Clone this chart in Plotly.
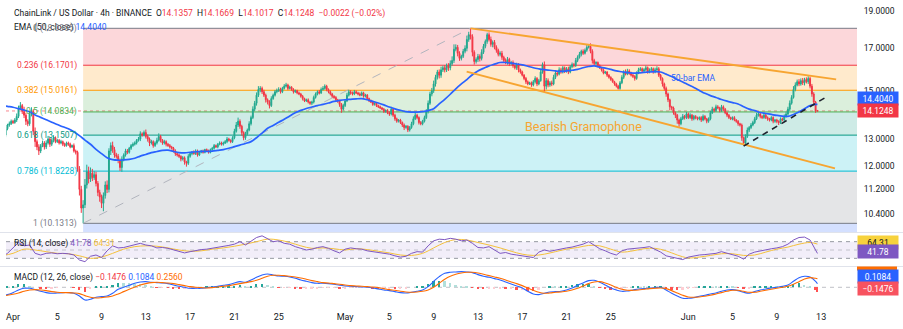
import numpy as np
import pandas as pd
import plotly.graph_objects as go

# ---------------- LINK/USD 4h candles (Binance), six bars per day ----------------
first_open = 13.40
closes = [
    13.25, 13.15, 13.40, 13.55, 13.60, 13.70,   # Mar 31
    13.65, 13.75, 13.90, 14.25, 14.35, 14.10,   # Apr 1
    13.95, 13.70, 13.60, 14.00, 14.10, 13.30,   # Apr 2
    12.90, 12.70, 12.55, 12.75, 12.85, 12.70,   # Apr 3
    12.85, 13.00, 12.80, 12.95, 13.05, 12.90,   # Apr 4
    12.95, 12.85, 12.90, 12.80, 12.75, 12.85,   # Apr 5
    12.80, 12.70, 12.75, 12.55, 12.50, 11.90,   # Apr 6
    11.20, 10.60, 10.70, 11.35, 11.80, 11.55,   # Apr 7
    11.75, 11.60, 11.70, 11.40, 11.10, 10.95,   # Apr 8
    10.75, 11.00, 11.35, 11.20, 12.55, 12.75,   # Apr 9
    12.60, 12.40, 12.35, 12.20, 11.95, 12.25,   # Apr 10
    12.40, 12.55, 12.50, 12.65, 12.75, 12.80,   # Apr 11
    12.85, 12.95, 13.00, 13.20, 13.15, 13.25,   # Apr 12
    13.10, 13.00, 12.85, 12.90, 12.75, 12.85,   # Apr 13
    12.95, 13.10, 12.95, 12.85, 12.90, 12.80,   # Apr 14
    12.75, 12.70, 12.65, 12.55, 12.45, 12.40,   # Apr 15
    12.35, 12.25, 12.30, 12.15, 12.10, 12.35,   # Apr 16
    12.45, 12.50, 12.45, 12.55, 12.40, 12.50,   # Apr 17
    12.55, 12.50, 12.60, 12.55, 12.50, 12.60,   # Apr 18
    12.65, 12.75, 12.70, 12.80, 12.85, 12.80,   # Apr 19
    12.85, 12.90, 13.00, 12.95, 12.90, 13.05,   # Apr 20
    13.30, 13.55, 13.70, 13.50, 13.25, 13.05,   # Apr 21
    13.20, 13.35, 13.60, 13.85, 14.20, 14.45,   # Apr 22
    14.80, 15.05, 15.10, 14.95, 14.80, 14.60,   # Apr 23
    14.50, 14.35, 14.65, 14.80, 14.95, 15.00,   # Apr 24
    15.05, 14.95, 15.10, 15.20, 15.25, 15.10,   # Apr 25
    15.15, 15.05, 14.95, 15.00, 14.90, 14.85,   # Apr 26
    14.75, 14.65, 14.55, 14.60, 14.50, 14.45,   # Apr 27
    14.50, 14.70, 14.85, 14.95, 14.90, 15.05,   # Apr 28
    15.10, 15.20, 15.05, 14.95, 14.85, 14.75,   # Apr 29
    14.70, 14.60, 14.55, 14.40, 14.20, 14.35,   # Apr 30
    14.55, 14.80, 14.95, 14.90, 14.85, 14.95,   # May 1
    14.90, 14.85, 14.80, 14.90, 14.75, 14.80,   # May 2
    14.65, 14.55, 14.50, 14.40, 14.45, 14.35,   # May 3
    14.30, 14.25, 14.20, 14.10, 14.15, 14.05,   # May 4
    14.00, 14.20, 13.95, 13.80, 13.70, 13.75,   # May 5
    13.65, 13.55, 13.45, 13.50, 13.35, 13.45,   # May 6
    13.60, 13.80, 13.95, 13.85, 13.65, 13.60,   # May 7
    13.70, 13.85, 14.10, 14.45, 14.85, 15.00,   # May 8
    15.30, 15.60, 15.85, 15.70, 15.95, 16.05,   # May 9
    15.95, 16.15, 16.05, 16.25, 16.40, 16.95,   # May 10
    17.05, 16.75, 16.50, 16.60, 16.85, 17.00,   # May 11
    17.45, 17.70, 17.60, 16.80, 16.35, 16.45,   # May 12
    16.60, 16.50, 16.80, 17.10, 17.35, 17.70,   # May 13
    17.45, 17.20, 17.30, 17.05, 16.90, 16.70,   # May 14
    16.75, 16.55, 16.40, 16.30, 16.45, 16.25,   # May 15
    16.30, 16.15, 16.05, 16.20, 15.95, 15.85,   # May 16
    15.70, 15.55, 15.40, 15.30, 15.35, 15.25,   # May 17
    15.40, 15.55, 15.30, 15.45, 15.85, 16.20,   # May 18
    15.20, 15.45, 15.25, 15.35, 15.30, 15.60,   # May 19
    15.80, 15.75, 15.95, 15.85, 16.05, 15.90,   # May 20
    16.00, 15.85, 16.10, 16.20, 16.15, 16.40,   # May 21
    16.55, 16.70, 16.85, 16.75, 16.90, 17.05,   # May 22
    17.10, 16.85, 16.40, 16.25, 16.30, 16.15,   # May 23
    16.05, 15.95, 15.80, 15.85, 15.70, 15.60,   # May 24
    15.50, 15.40, 15.30, 15.20, 15.10, 15.35,   # May 25
    15.60, 15.85, 15.75, 15.90, 15.80, 15.70,   # May 26
    15.65, 15.55, 15.80, 15.95, 16.00, 15.90,   # May 27
    15.95, 16.05, 15.85, 15.95, 16.00, 15.85,   # May 28
    15.95, 16.00, 15.70, 15.55, 15.30, 15.10,   # May 29
    14.85, 14.60, 14.30, 14.25, 14.05, 13.95,   # May 30
    13.75, 13.60, 13.80, 13.90, 13.85, 14.00,   # May 31
    13.85, 13.95, 13.80, 13.90, 13.85, 13.80,   # Jun 1
    13.85, 13.75, 13.90, 13.80, 13.70, 13.80,   # Jun 2
    14.05, 14.20, 14.15, 14.30, 14.25, 14.15,   # Jun 3
    14.30, 14.20, 14.05, 13.95, 13.85, 13.80,   # Jun 4
    13.85, 13.75, 13.70, 13.60, 13.55, 13.05,   # Jun 5
    12.85, 13.10, 13.35, 13.45, 13.55, 13.65,   # Jun 6
    13.80, 13.95, 14.00, 13.90, 13.85, 13.95,   # Jun 7
    13.85, 13.80, 13.75, 13.85, 13.70, 13.75,   # Jun 8
    13.70, 13.65, 13.80, 13.75, 13.90, 14.00,   # Jun 9
    14.20, 14.45, 14.70, 15.05, 15.25, 15.40,   # Jun 10
    15.30, 15.45, 15.35, 15.50, 15.40, 15.55,   # Jun 11
    15.20, 14.85, 14.50, 14.1270,               # Jun 12
]
up_wicks = [
    0.08, 0.10, 0.06, 0.05, 0.09, 0.07,
    0.06, 0.08, 0.12, 0.10, 0.15, 0.07,
    0.20, 0.10, 0.08, 0.12, 0.18, 0.10,
    0.15, 0.08, 0.10, 0.06, 0.09, 0.07,
    0.10, 0.12, 0.06, 0.08, 0.10, 0.05,
    0.06, 0.05, 0.07, 0.04, 0.06, 0.05,
    0.05, 0.06, 0.04, 0.08, 0.05, 0.06,
    0.10, 0.12, 0.15, 0.20, 0.25, 0.18,
    0.20, 0.15, 0.12, 0.10, 0.08, 0.09,
    0.08, 0.10, 0.12, 0.15, 0.10, 0.12,
    0.15, 0.10, 0.08, 0.09, 0.07, 0.10,
    0.06, 0.08, 0.07, 0.05, 0.06, 0.07,
    0.06, 0.05, 0.08, 0.10, 0.06, 0.08,
    0.12, 0.08, 0.06, 0.07, 0.05, 0.06,
    0.10, 0.12, 0.06, 0.05, 0.07, 0.05,
    0.05, 0.06, 0.04, 0.05, 0.06, 0.04,
    0.05, 0.04, 0.06, 0.05, 0.04, 0.08,
    0.06, 0.05, 0.07, 0.06, 0.05, 0.04,
    0.04, 0.05, 0.03, 0.04, 0.05, 0.04,
    0.05, 0.06, 0.04, 0.05, 0.06, 0.05,
    0.05, 0.06, 0.08, 0.05, 0.04, 0.06,
    0.10, 0.12, 0.15, 0.08, 0.06, 0.05,
    0.08, 0.06, 0.10, 0.08, 0.12, 0.10,
    0.12, 0.15, 0.10, 0.08, 0.09, 0.07,
    0.06, 0.08, 0.10, 0.07, 0.08, 0.09,
    0.10, 0.08, 0.07, 0.09, 0.10, 0.06,
    0.07, 0.05, 0.06, 0.05, 0.04, 0.06,
    0.05, 0.06, 0.04, 0.05, 0.06, 0.04,
    0.06, 0.08, 0.07, 0.06, 0.08, 0.09,
    0.10, 0.08, 0.06, 0.05, 0.06, 0.05,
    0.05, 0.06, 0.04, 0.05, 0.06, 0.08,
    0.08, 0.10, 0.09, 0.07, 0.06, 0.08,
    0.06, 0.05, 0.07, 0.06, 0.05, 0.06,
    0.05, 0.04, 0.06, 0.05, 0.04, 0.05,
    0.04, 0.05, 0.04, 0.05, 0.04, 0.05,
    0.06, 0.10, 0.05, 0.06, 0.05, 0.04,
    0.05, 0.04, 0.06, 0.05, 0.04, 0.06,
    0.08, 0.10, 0.12, 0.06, 0.05, 0.06,
    0.06, 0.08, 0.10, 0.12, 0.10, 0.12,
    0.15, 0.12, 0.10, 0.12, 0.15, 0.10,
    0.12, 0.10, 0.12, 0.15, 0.20, 0.25,
    0.15, 0.12, 0.10, 0.08, 0.12, 0.15,
    0.20, 0.15, 0.3355, 0.12, 0.10, 0.10,
    0.12, 0.10, 0.15, 0.12, 0.10, 0.10,
    0.12, 0.15, 0.10, 0.12, 0.10, 0.08,
    0.10, 0.12, 0.08, 0.10, 0.12, 0.08,
    0.08, 0.10, 0.06, 0.09, 0.07, 0.06,
    0.06, 0.05, 0.07, 0.06, 0.05, 0.06,
    0.08, 0.10, 0.06, 0.08, 0.12, 0.10,
    0.15, 0.12, 0.10, 0.08, 0.10, 0.12,
    0.10, 0.08, 0.12, 0.10, 0.08, 0.06,
    0.08, 0.10, 0.07, 0.10, 0.08, 0.12,
    0.10, 0.12, 0.08, 0.10, 0.09, 0.12,
    0.10, 0.15, 0.10, 0.08, 0.06, 0.05,
    0.06, 0.05, 0.07, 0.05, 0.04, 0.05,
    0.05, 0.06, 0.04, 0.05, 0.06, 0.08,
    0.10, 0.08, 0.12, 0.10, 0.08, 0.06,
    0.06, 0.05, 0.08, 0.10, 0.08, 0.06,
    0.08, 0.10, 0.06, 0.07, 0.08, 0.06,
    0.10, 0.12, 0.08, 0.06, 0.05, 0.06,
    0.08, 0.06, 0.05, 0.04, 0.06, 0.05,
    0.05, 0.06, 0.08, 0.10, 0.06, 0.08,
    0.06, 0.08, 0.05, 0.06, 0.05, 0.04,
    0.05, 0.06, 0.08, 0.05, 0.04, 0.06,
    0.08, 0.10, 0.06, 0.09, 0.07, 0.05,
    0.08, 0.06, 0.05, 0.04, 0.05, 0.04,
    0.05, 0.06, 0.04, 0.05, 0.04, 0.06,
    0.05, 0.08, 0.10, 0.06, 0.08, 0.07,
    0.08, 0.10, 0.09, 0.06, 0.05, 0.06,
    0.06, 0.05, 0.04, 0.06, 0.05, 0.04,
    0.05, 0.04, 0.06, 0.05, 0.08, 0.10,
    0.10, 0.12, 0.10, 0.15, 0.12, 0.10,
    0.12, 0.10, 0.12, 0.08, 0.10, 0.10,
    0.08, 0.10, 0.08, 0.05,
]
down_wicks = [
    0.10, 0.12, 0.08, 0.06, 0.07, 0.05,
    0.06, 0.05, 0.08, 0.07, 0.06, 0.10,
    0.12, 0.15, 0.10, 0.08, 0.10, 0.15,
    0.20, 0.12, 0.15, 0.08, 0.06, 0.10,
    0.08, 0.06, 0.10, 0.07, 0.08, 0.06,
    0.05, 0.06, 0.05, 0.07, 0.05, 0.04,
    0.06, 0.05, 0.04, 0.06, 0.08, 0.10,
    0.20, 0.15, 0.4687, 0.10, 0.12, 0.15,
    0.10, 0.12, 0.08, 0.10, 0.12, 0.15,
    0.15, 0.25, 0.10, 0.12, 0.10, 0.15,
    0.12, 0.10, 0.08, 0.10, 0.12, 0.15,
    0.08, 0.06, 0.07, 0.05, 0.06, 0.05,
    0.05, 0.06, 0.05, 0.08, 0.06, 0.05,
    0.08, 0.10, 0.12, 0.06, 0.08, 0.05,
    0.06, 0.05, 0.08, 0.07, 0.06, 0.08,
    0.05, 0.06, 0.05, 0.06, 0.08, 0.06,
    0.06, 0.08, 0.05, 0.10, 0.12, 0.06,
    0.05, 0.06, 0.04, 0.05, 0.06, 0.04,
    0.04, 0.05, 0.04, 0.03, 0.05, 0.04,
    0.04, 0.05, 0.04, 0.05, 0.04, 0.05,
    0.05, 0.04, 0.06, 0.05, 0.06, 0.05,
    0.06, 0.05, 0.08, 0.10, 0.12, 0.10,
    0.08, 0.06, 0.05, 0.07, 0.06, 0.08,
    0.10, 0.08, 0.12, 0.10, 0.08, 0.12,
    0.10, 0.12, 0.06, 0.05, 0.06, 0.07,
    0.06, 0.08, 0.06, 0.05, 0.06, 0.08,
    0.05, 0.06, 0.08, 0.05, 0.06, 0.05,
    0.06, 0.08, 0.05, 0.04, 0.06, 0.07,
    0.08, 0.06, 0.05, 0.06, 0.07, 0.05,
    0.05, 0.06, 0.08, 0.07, 0.06, 0.08,
    0.06, 0.05, 0.08, 0.10, 0.15, 0.06,
    0.06, 0.05, 0.06, 0.08, 0.06, 0.05,
    0.05, 0.06, 0.05, 0.04, 0.06, 0.05,
    0.06, 0.05, 0.04, 0.06, 0.05, 0.06,
    0.05, 0.04, 0.05, 0.06, 0.05, 0.06,
    0.08, 0.06, 0.07, 0.08, 0.06, 0.05,
    0.06, 0.08, 0.10, 0.05, 0.08, 0.06,
    0.05, 0.06, 0.05, 0.07, 0.08, 0.06,
    0.06, 0.05, 0.06, 0.08, 0.07, 0.10,
    0.10, 0.12, 0.10, 0.15, 0.12, 0.10,
    0.12, 0.10, 0.15, 0.12, 0.10, 0.12,
    0.10, 0.15, 0.12, 0.10, 0.08, 0.10,
    0.15, 0.12, 0.15, 0.20, 0.15, 0.10,
    0.12, 0.15, 0.10, 0.08, 0.10, 0.12,
    0.10, 0.12, 0.15, 0.10, 0.12, 0.10,
    0.10, 0.12, 0.10, 0.08, 0.10, 0.12,
    0.08, 0.10, 0.08, 0.10, 0.12, 0.08,
    0.06, 0.08, 0.10, 0.06, 0.05, 0.08,
    0.06, 0.08, 0.10, 0.06, 0.05, 0.08,
    0.25, 0.15, 0.10, 0.08, 0.10, 0.06,
    0.08, 0.10, 0.06, 0.08, 0.07, 0.10,
    0.08, 0.10, 0.06, 0.07, 0.08, 0.06,
    0.08, 0.06, 0.10, 0.08, 0.06, 0.08,
    0.06, 0.10, 0.15, 0.08, 0.10, 0.08,
    0.06, 0.08, 0.06, 0.05, 0.08, 0.06,
    0.06, 0.05, 0.08, 0.06, 0.05, 0.06,
    0.06, 0.08, 0.06, 0.05, 0.08, 0.06,
    0.08, 0.10, 0.06, 0.05, 0.06, 0.08,
    0.06, 0.05, 0.08, 0.06, 0.05, 0.08,
    0.06, 0.05, 0.08, 0.10, 0.12, 0.10,
    0.12, 0.10, 0.15, 0.10, 0.08, 0.12,
    0.15, 0.12, 0.06, 0.05, 0.08, 0.06,
    0.06, 0.05, 0.08, 0.06, 0.07, 0.06,
    0.06, 0.08, 0.05, 0.06, 0.08, 0.06,
    0.06, 0.05, 0.08, 0.06, 0.05, 0.08,
    0.06, 0.08, 0.06, 0.08, 0.06, 0.05,
    0.06, 0.05, 0.06, 0.08, 0.06, 0.12,
    0.10, 0.08, 0.06, 0.08, 0.06, 0.05,
    0.06, 0.05, 0.06, 0.08, 0.06, 0.05,
    0.06, 0.08, 0.06, 0.05, 0.08, 0.06,
    0.08, 0.10, 0.06, 0.05, 0.06, 0.05,
    0.06, 0.08, 0.06, 0.05, 0.08, 0.06,
    0.10, 0.08, 0.10, 0.12, 0.08, 0.10,
    0.10, 0.12, 0.10, 0.08,
]
last_bar = [14.1357, 14.1669, 14.1017, 14.1248]   # O, H, L, C of the live bar

# ---------------- indicators, two samples per day + live bar ----------------
ema50 = [
    14.36, 14.32, 14.28, 14.22, 14.16, 14.09, 13.96, 13.86, 13.76, 13.66,
    13.57, 13.48, 13.40, 13.28, 13.13, 12.96, 12.80, 12.61, 12.45, 12.30,
    12.23, 12.21, 12.22, 12.24, 12.28, 12.36, 12.42, 12.49, 12.53, 12.57,
    12.58, 12.53, 12.49, 12.48, 12.50, 12.52, 12.53, 12.53, 12.54, 12.57,
    12.60, 12.65, 12.71, 12.77, 12.83, 12.90, 13.05, 13.23, 13.42, 13.53,
    13.66, 13.78, 13.92, 14.05, 14.15, 14.23, 14.29, 14.35, 14.40, 14.46,
    14.53, 14.57, 14.60, 14.62, 14.64, 14.65, 14.60, 14.53, 14.46, 14.38,
    14.29, 14.21, 14.15, 14.10, 14.08, 14.08, 14.10, 14.14, 14.22, 14.42,
    14.62, 14.84, 15.08, 15.30, 15.50, 15.72, 15.90, 16.02, 16.14, 16.22,
    16.30, 16.30, 16.27, 16.23, 16.19, 16.12, 16.05, 16.00, 15.96, 15.93,
    15.90, 15.88, 15.90, 15.93, 15.97, 16.05, 16.11, 16.14, 16.08, 16.03,
    15.97, 15.90, 15.86, 15.82, 15.80, 15.81, 15.83, 15.85, 15.87, 15.85,
    15.75, 15.64, 15.50, 15.39, 15.26, 15.14, 15.01, 14.88, 14.78, 14.70,
    14.61, 14.54, 14.48, 14.42, 14.30, 14.20, 14.14, 14.06, 14.02, 13.98,
    13.94, 13.91, 13.90, 13.98, 14.08, 14.22, 14.35, 14.40, 14.4040,
]
rsi14 = [
    33, 42, 55, 68, 60, 62, 42, 38, 42, 43, 41, 42, 41, 38, 26, 22, 35, 38,
    32, 48, 60, 55, 56, 59, 62, 66, 62, 60, 55, 56, 54, 50, 46, 43, 46, 49,
    51, 52, 54, 56, 58, 61, 64, 70, 62, 72, 80, 84, 76, 70, 72, 66, 64, 58,
    54, 50, 52, 56, 58, 54, 48, 43, 52, 55, 53, 52, 48, 46, 43, 41, 40, 36,
    33, 35, 42, 46, 45, 60, 72, 76, 75, 78, 76, 72, 74, 66, 56, 55, 58, 50,
    42, 44, 40, 38, 36, 35, 32, 45, 50, 47, 50, 52, 55, 57, 60, 64, 70, 62,
    53, 48, 42, 38, 48, 52, 53, 55, 56, 58, 52, 45, 36, 33, 29, 27, 33, 36,
    38, 39, 40, 42, 46, 42, 39, 35, 28, 40, 45, 48, 50, 53, 55, 58, 64, 74,
    80, 81, 74, 52, 41.78,
]
rsi_ma = [
    36, 42, 52, 50, 46, 42, 41, 36, 30, 33, 42, 52, 58, 60, 59, 55, 50, 47,
    48, 52, 55, 59, 64, 70, 76, 74, 68, 60, 54, 55, 53, 50, 53, 51, 47, 43,
    38, 37, 42, 55, 68, 75, 74, 68, 62, 55, 47, 40, 37, 40, 46, 52, 56, 61,
    60, 52, 45, 48, 53, 54, 48, 38, 31, 33, 37, 41, 41, 37, 38, 45, 52, 57,
    64, 68, 64.31,
]
macd_line = [
    -0.24, -0.22, -0.16, -0.08, -0.03, -0.03, -0.07, -0.12, -0.16, -0.18,
    -0.17, -0.16, -0.16, -0.18, -0.26, -0.38, -0.36, -0.30, -0.28, -0.26,
    -0.18, -0.06, 0.00, 0.06, 0.12, 0.16, 0.17, 0.15, 0.14, 0.13,
    0.11, 0.07, 0.03, 0.00, -0.03, -0.03, -0.03, -0.01, 0.01, 0.03,
    0.06, 0.08, 0.13, 0.17, 0.15, 0.22, 0.30, 0.37, 0.40, 0.37,
    0.34, 0.33, 0.31, 0.27, 0.22, 0.18, 0.14, 0.12, 0.12, 0.11,
    0.09, 0.06, 0.04, 0.03, 0.02, 0.01, 0.00, -0.02, -0.05, -0.08,
    -0.10, -0.13, -0.16, -0.17, -0.15, -0.12, -0.08, 0.02, 0.18, 0.32,
    0.42, 0.45, 0.46, 0.47, 0.46, 0.44, 0.38, 0.33, 0.30, 0.26,
    0.22, 0.16, 0.10, 0.04, -0.02, -0.12, -0.20, -0.22, -0.18, -0.14,
    -0.13, -0.12, -0.08, -0.02, 0.06, 0.13, 0.20, 0.21, 0.15, 0.07,
    -0.02, -0.08, -0.12, -0.11, -0.08, -0.05, -0.04, -0.02, -0.01, 0.00,
    -0.08, -0.18, -0.26, -0.33, -0.33, -0.31, -0.27, -0.24, -0.20, -0.17,
    -0.12, -0.08, -0.07, -0.10, -0.15, -0.18, -0.13, -0.08, -0.05, -0.02,
    0.00, 0.03, 0.07, 0.18, 0.29, 0.33, 0.31, 0.18, 0.1084,
]
macd_signal = [
    -0.26, -0.24, -0.21, -0.17, -0.12, -0.08, -0.07, -0.08, -0.10, -0.13,
    -0.15, -0.16, -0.16, -0.17, -0.19, -0.25, -0.30, -0.32, -0.31, -0.29,
    -0.26, -0.20, -0.13, -0.06, 0.01, 0.07, 0.11, 0.14, 0.15, 0.14,
    0.13, 0.11, 0.08, 0.05, 0.02, 0.00, -0.01, -0.02, -0.01, 0.01,
    0.03, 0.05, 0.08, 0.11, 0.14, 0.17, 0.21, 0.27, 0.33, 0.36,
    0.36, 0.35, 0.33, 0.31, 0.28, 0.24, 0.20, 0.17, 0.14, 0.13,
    0.11, 0.09, 0.07, 0.05, 0.04, 0.03, 0.02, 0.01, -0.01, -0.04,
    -0.07, -0.09, -0.12, -0.14, -0.15, -0.14, -0.12, -0.08, 0.00, 0.12,
    0.24, 0.33, 0.39, 0.43, 0.45, 0.45, 0.43, 0.39, 0.35, 0.31,
    0.27, 0.22, 0.16, 0.11, 0.05, -0.02, -0.09, -0.15, -0.18, -0.17,
    -0.15, -0.14, -0.12, -0.08, -0.03, 0.04, 0.11, 0.16, 0.17, 0.13,
    0.07, 0.00, -0.06, -0.09, -0.09, -0.08, -0.06, -0.04, -0.03, -0.02,
    -0.04, -0.10, -0.17, -0.24, -0.29, -0.30, -0.29, -0.27, -0.24, -0.20,
    -0.16, -0.12, -0.09, -0.09, -0.12, -0.15, -0.15, -0.12, -0.09, -0.06,
    -0.03, 0.00, 0.03, 0.09, 0.17, 0.25, 0.29, 0.27, 0.2560,
]

# ---------------- drawings ----------------
fib_low, fib_high = 10.1313, 18.0355
fib_low_time, fib_high_time = "2025-04-07 08:00", "2025-05-12 08:00"
fib_ratios = [0, 0.236, 0.382, 0.5, 0.618, 0.786, 1, 1.618]
fib_colors = ["#787B86", "#F23645", "#FF9800", "#4CAF50", "#089981", "#00BCD4", "#787B86", "#2962FF"]

upper_line_t = ["2025-05-12 08:00", "2025-06-14 08:30"]
upper_line_p = [18.0355, 15.51]
lower_line_t = ["2025-05-11 23:30", "2025-06-14 06:00"]
lower_line_p = [15.865, 11.92]
support_t = ["2025-06-06 00:00", "2025-06-13 08:30"]
support_p = [12.73, 14.69]

price_ticks = [10.4, 11.2, 12.0, 13.0, 15.0, 17.0, 19.0]
date_ticks = ["2025-04-01", "2025-04-05", "2025-04-09", "2025-04-13", "2025-04-17",
              "2025-04-21", "2025-04-25", "2025-05-01", "2025-05-05", "2025-05-09",
              "2025-05-13", "2025-05-17", "2025-05-21", "2025-05-25", "2025-06-01",
              "2025-06-05", "2025-06-09", "2025-06-13"]
date_tick_text = ["Apr", "5", "9", "13", "17", "21", "25", "May", "5", "9", "13",
                  "17", "21", "25", "Jun", "5", "9", "13"]

# ---------------- assemble series ----------------
assert len(up_wicks) == len(closes) == len(down_wicks)
t4 = pd.date_range("2025-03-31 00:00", periods=len(closes) + 1, freq="4h")
opens = [first_open] + closes[:-1]
highs = [max(o, c) + w for o, c, w in zip(opens, closes, up_wicks)] + [last_bar[1]]
lows = [min(o, c) - w for o, c, w in zip(opens, closes, down_wicks)] + [last_bar[2]]
opens = opens + [last_bar[0]]
cl = closes + [last_bar[3]]

t12 = list(pd.date_range("2025-03-31", periods=len(ema50) - 1, freq="12h")) + [t4[-1]]
t24 = list(pd.date_range("2025-03-31", periods=len(rsi_ma) - 1, freq="D")) + [t4[-1]]
hist = [round(m - s, 4) for m, s in zip(macd_line, macd_signal)]
hist_colors = []
for i, h in enumerate(hist):
    prev = hist[i - 1] if i else h
    if h >= 0:
        hist_colors.append("#26A69A" if h >= prev else "#B2DFDB")
    else:
        hist_colors.append("#FFCDD2" if h >= prev else "#FF5252")

fib_levels = [fib_high - r * (fib_high - fib_low) for r in fib_ratios]


def fmt(v, nd):
    return f"{v:.{nd}f}".replace("-", "\u2212")


W, H = 903, 329
PLOT_L, PLOT_R = 6, 857
x_start = pd.Timestamp("2025-03-31 08:50")
x_end = pd.Timestamp("2025-06-16 05:45")
FONT = "Roboto, 'Noto Sans', sans-serif"
TXT = "#131722"
UP, DN = "#22A88F", "#F23645"


def py(px):
    return 1 - px / H


fig = go.Figure()

# fib connector (swing low -> swing high)
fig.add_trace(go.Scatter(x=[fib_low_time, fib_high_time], y=[fib_low, fib_high], mode="lines",
                         line=dict(color="#B2B5BE", width=1, dash="dash"), hoverinfo="skip",
                         xaxis="x", yaxis="y"))
fig.add_trace(go.Candlestick(
    x=t4, open=opens, high=highs, low=lows, close=cl,
    increasing=dict(line=dict(color=UP, width=1), fillcolor=UP),
    decreasing=dict(line=dict(color=DN, width=1), fillcolor=DN),
    whiskerwidth=0, hoverinfo="skip", xaxis="x", yaxis="y"))
fig.add_trace(go.Scatter(x=t12, y=ema50, mode="lines", line=dict(color="#2962FF", width=1.7, shape="spline"),
                         hoverinfo="skip", xaxis="x", yaxis="y"))
for tx, pr in ((upper_line_t, upper_line_p), (lower_line_t, lower_line_p)):
    fig.add_trace(go.Scatter(x=tx, y=pr, mode="lines", line=dict(color="#F7A531", width=1.8),
                             hoverinfo="skip", xaxis="x", yaxis="y"))
fig.add_trace(go.Scatter(x=support_t, y=support_p, mode="lines",
                         line=dict(color="#1E222D", width=1.6, dash="6px,5px"),
                         hoverinfo="skip", xaxis="x", yaxis="y"))

# RSI pane
fig.add_trace(go.Scatter(x=t24, y=rsi_ma, mode="lines", line=dict(color="#F5C13B", width=1, shape="spline"),
                         hoverinfo="skip", xaxis="x", yaxis="y2"))
fig.add_trace(go.Scatter(x=t12, y=rsi14, mode="lines", line=dict(color="#7E57C2", width=1),
                         hoverinfo="skip", xaxis="x", yaxis="y2"))

# MACD pane
fig.add_trace(go.Bar(x=t12, y=hist, marker=dict(color=hist_colors, line_width=0),
                     width=4 * 3600 * 1000, hoverinfo="skip", xaxis="x", yaxis="y3"))
fig.add_trace(go.Scatter(x=t12, y=macd_line, mode="lines", line=dict(color="#2962FF", width=1.1, shape="spline"),
                         hoverinfo="skip", xaxis="x", yaxis="y3"))
fig.add_trace(go.Scatter(x=t12, y=macd_signal, mode="lines", line=dict(color="#FF6D00", width=1.1, shape="spline"),
                         hoverinfo="skip", xaxis="x", yaxis="y3"))

shapes = []
# fib bands and level lines
for i in range(1, len(fib_levels)):
    shapes.append(dict(type="rect", xref="x", yref="y", x0=fib_low_time, x1=x_end,
                       y0=fib_levels[i], y1=fib_levels[i - 1], fillcolor=fib_colors[i],
                       opacity=0.2, line_width=0, layer="below"))
for lvl, col in zip(fib_levels, fib_colors):
    shapes.append(dict(type="line", xref="x", yref="y", x0=fib_low_time, x1=x_end,
                       y0=lvl, y1=lvl, line=dict(color=col, width=1), layer="below"))
# live price line
shapes.append(dict(type="line", xref="x domain", yref="y", x0=0, x1=1, y0=last_bar[3], y1=last_bar[3],
                   line=dict(color="rgba(242,54,69,0.6)", width=1, dash="dot"), layer="below"))
# RSI band and guides
shapes.append(dict(type="rect", xref="x domain", yref="y2", x0=0, x1=1, y0=30, y1=70,
                   fillcolor="rgba(126,87,194,0.10)", line_width=0, layer="below"))
for lv, col in ((70, "#9598A1"), (50, "rgba(149,152,161,0.5)"), (30, "#9598A1")):
    shapes.append(dict(type="line", xref="x domain", yref="y2", x0=0, x1=1, y0=lv, y1=lv,
                       line=dict(color=col, width=1, dash="4px,4px"), layer="below"))
shapes.append(dict(type="line", xref="x domain", yref="y3", x0=0, x1=1, y0=0, y1=0,
                   line=dict(color="rgba(149,152,161,0.6)", width=1, dash="4px,4px"), layer="below"))
# pane separators
for sep in (232.5, 266.5):
    shapes.append(dict(type="line", xref="paper", yref="paper", x0=0, x1=1, y0=py(sep), y1=py(sep),
                       line=dict(color="#E0E3EB", width=1)))
# signal tag peeking under the pane edge
shapes.append(dict(type="rect", xref="paper", yref="paper", x0=PLOT_R / W, x1=(PLOT_R + 40) / W,
                   y0=py(270.5), y1=py(266.5), fillcolor="#FF6D00", line_width=0, layer="above"))

ann = []
# header
o, h_, l_, c_ = last_bar
chg = c_ - closes[-1]
pct = chg / closes[-1] * 100
red = "#F23645"
hdr = ("ChainLink / US Dollar \u00b7 4h \u00b7 BINANCE&nbsp;&nbsp;"
       f"O<span style='color:{red}'>{fmt(o, 4)}</span>&nbsp;&nbsp;"
       f"H<span style='color:{red}'>{fmt(h_, 4)}</span>&nbsp;&nbsp;"
       f"L<span style='color:{red}'>{fmt(l_, 4)}</span>&nbsp;&nbsp;"
       f"C<span style='color:{red}'>{fmt(c_, 4)}</span>&nbsp;&nbsp;"
       f"<span style='color:{red}'>{fmt(chg, 4)} ({fmt(pct, 2)}%)</span>")
ann.append(dict(xref="paper", yref="paper", x=12 / W, y=py(14), xanchor="left", yanchor="middle",
                text=hdr, showarrow=False, font=dict(size=8.5, color=TXT)))
ann.append(dict(xref="paper", yref="paper", x=12 / W, y=py(27), xanchor="left", yanchor="middle",
                text=f"EMA (50, close) <span style='color:#2962FF'>{fmt(ema50[-1], 4)}</span>",
                showarrow=False, font=dict(size=8.5, color=TXT)))
# fib labels
for r, lvl, col in zip(fib_ratios[:-1], fib_levels[:-1], fib_colors[:-1]):
    ann.append(dict(xref="x", yref="y", x=fib_low_time, y=np.log10(lvl), xanchor="right", yanchor="middle",
                    xshift=-4, text=f"{r:g} ({lvl:.4f})", showarrow=False, font=dict(size=8.5, color=col)))
# drawing texts
ann.append(dict(xref="x", yref="y", x="2025-05-22 12:00", y=np.log10(13.51), text="Bearish Gramophone",
                showarrow=False, font=dict(size=12.5, color="#F7A531")))
ann.append(dict(xref="x", yref="y", x="2025-06-01 11:00", y=np.log10(15.57), text="50-bar EMA",
                showarrow=False, font=dict(size=8.5, color="#2962FF")))
# pane legends
ann.append(dict(xref="paper", yref="paper", x=12 / W, y=py(243), xanchor="left", yanchor="middle",
                text=(f"RSI (14, close) <span style='color:#7E57C2'>{fmt(rsi14[-1], 2)}</span> "
                      f"<span style='color:#F5C13B'>{fmt(rsi_ma[-1], 2)}</span>"),
                showarrow=False, font=dict(size=8.5, color=TXT)))
ann.append(dict(xref="paper", yref="paper", x=12 / W, y=py(277), xanchor="left", yanchor="middle",
                text=(f"MACD (12, 26, close) <span style='color:#F23645'>{fmt(hist[-1], 4)}</span> "
                      f"<span style='color:#2962FF'>{fmt(macd_line[-1], 4)}</span> "
                      f"<span style='color:#FF6D00'>{fmt(macd_signal[-1], 4)}</span>"),
                showarrow=False, font=dict(size=8.5, color=TXT)))


def axis_tag(text, y, yref, bg, fg="#FFFFFF", shift=0):
    return dict(xref="x domain", x=1, xanchor="left", yref=yref, y=y, yanchor="middle", yshift=shift,
                text=text, showarrow=False, bgcolor=bg, font=dict(size=8.5, color=fg),
                width=38, height=11, borderpad=1, align="center")


ann.append(axis_tag(fmt(ema50[-1], 4), np.log10(ema50[-1]), "y", "#2962FF", shift=6))
ann.append(axis_tag(fmt(last_bar[3], 4), np.log10(last_bar[3]), "y", "#F23645"))
ann.append(axis_tag(fmt(rsi_ma[-1], 2), rsi_ma[-1], "y2", "#F7D23C", fg=TXT, shift=2))
ann.append(axis_tag(fmt(rsi14[-1], 2), rsi14[-1], "y2", "#7E57C2", shift=2))
ann.append(axis_tag(fmt(macd_line[-1], 4), macd_line[-1], "y3", "#2962FF", shift=7.5))
ann.append(axis_tag(fmt(hist[-1], 4), hist[-1], "y3", "#F7525F", shift=4))

fig.update_layout(
    width=W, height=H, margin=dict(l=0, r=0, t=0, b=0), template="none",
    paper_bgcolor="#FFFFFF", plot_bgcolor="rgba(0,0,0,0)", showlegend=False,
    font=dict(family=FONT, color=TXT), shapes=shapes, annotations=ann, bargap=0,
    xaxis=dict(type="date", domain=[PLOT_L / W, PLOT_R / W], range=[x_start, x_end], anchor="y3",
               tickmode="array", tickvals=date_ticks, ticktext=date_tick_text,
               tickfont=dict(size=9, color=TXT), ticks="outside", ticklen=4, tickcolor="rgba(0,0,0,0)",
               showgrid=False, zeroline=False, showline=False, rangeslider=dict(visible=False),
               automargin=False),
    yaxis=dict(domain=[py(232), 1], type="log", range=[np.log10(9.875), np.log10(19.61)], side="right",
               anchor="x", tickmode="array", tickvals=price_ticks, ticktext=[f"{v:.4f}" for v in price_ticks],
               tickfont=dict(size=8.5, color=TXT), ticks="outside", ticklen=4, tickcolor="rgba(0,0,0,0)",
               showgrid=False, zeroline=False, showline=False, automargin=False),
    yaxis2=dict(domain=[py(266), py(233)], range=[11.6, 90.8], anchor="x", side="right",
                showticklabels=False, showgrid=False, zeroline=False, showline=False, automargin=False),
    yaxis3=dict(domain=[py(304), py(267)], range=[-0.501, 0.609], anchor="x", side="right",
                showticklabels=False, showgrid=False, zeroline=False, showline=False, automargin=False),
)

fig.write_html("out.html")
